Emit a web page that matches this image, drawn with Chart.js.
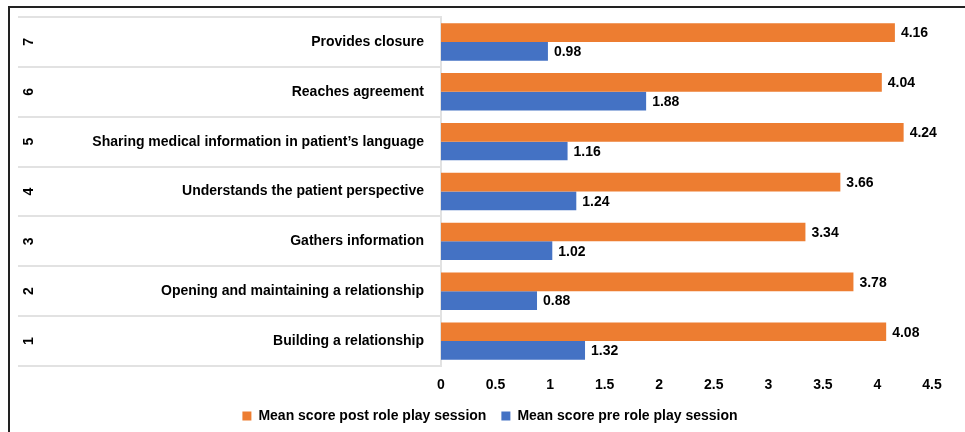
<!DOCTYPE html>
<html>
<head>
<meta charset="utf-8">
<script src="https://cdn.jsdelivr.net/npm/chart.js@4.4.0/dist/chart.umd.min.js"></script>
<style>
  body { margin: 0; background: #fff; }
  #frame { position: absolute; left: 8px; top: 6px; width: 957px; height: 426px;
           border-top: 2px solid #222; border-left: 2px solid #222; box-sizing: border-box; }
  #wrap { position: absolute; left: 0; top: 0; width: 965px; height: 432px; }
</style>
</head>
<body>
<div id="frame"></div>
<div id="wrap"><canvas id="myChart" width="965" height="432"></canvas></div>
<script>
// top to bottom, as in the figure
const categories = [
    'Provides closure',
    'Reaches agreement',
    'Sharing medical information in patient\u2019s language',
    'Understands the patient perspective',
    'Gathers information',
    'Opening and maintaining a relationship',
    'Building a relationship'
];
const itemNumbers = ['7', '6', '5', '4', '3', '2', '1'];
const postScores = [4.16, 4.04, 4.24, 3.66, 3.34, 3.78, 4.08];
const preScores = [0.98, 1.88, 1.16, 1.24, 1.02, 0.88, 1.32];

const font = { family: 'Liberation Sans, Arial, sans-serif', size: 14, weight: 'bold' };
const lineColor = '#e2e2e2';

const valueLabels = {
    id: 'valueLabels',
    afterDatasetsDraw(chart) {
        const ctx = chart.ctx;
        ctx.save();
        ctx.font = 'bold 14px Liberation Sans, Arial, sans-serif';
        ctx.fillStyle = '#000';
        ctx.textBaseline = 'middle';
        ctx.textAlign = 'left';
        chart.data.datasets.forEach((ds, i) => {
            chart.getDatasetMeta(i).data.forEach((bar, j) => {
                ctx.fillText(ds.data[j].toFixed(2), bar.x + 6, bar.y + 1);
            });
        });
        ctx.restore();
    }
};

const ctx = document.getElementById('myChart');
const chart = new Chart(ctx, {
    type: 'bar',
    data: {
        labels: categories,
        datasets: [{
            label: 'Mean score post role play session',
            data: postScores,
            backgroundColor: '#ED7D31',
            categoryPercentage: 0.75,
            barPercentage: 1
        }, {
            label: 'Mean score pre role play session',
            data: preScores,
            backgroundColor: '#4472C4',
            categoryPercentage: 0.75,
            barPercentage: 1
        }]
    },
    options: {
        indexAxis: 'y',
        responsive: false,
        animation: false,
        layout: { padding: { left: 48, top: 17, right: 33, bottom: -1 } },
        scales: {
            x: {
                min: 0,
                max: 4.5,
                ticks: { stepSize: 0.5, color: '#000', font: font, padding: 11,
                         callback: (v) => String(v) },
                grid: { display: false, drawTicks: false },
                border: { display: false },
                afterFit(scale) { scale.height = 28; }
            },
            y: {
                weight: 0,
                offset: true,
                grid: { offset: true, drawOnChartArea: false, color: lineColor, lineWidth: 2, tickLength: 423 },
                border: { display: true, color: lineColor, width: 2 },
                ticks: { color: '#000', font: font, padding: -406 },
                afterFit(scale) { scale.width = 392; }
            },
            y2: {
                type: 'category',
                labels: itemNumbers,
                position: 'left',
                weight: 1,
                offset: true,
                grid: { display: false, drawTicks: false },
                border: { display: false },
                ticks: { color: '#000', font: font, mirror: true, minRotation: 90, maxRotation: 90,
                         crossAlign: 'center', padding: -24 },
                afterFit(scale) { scale.width = 1; }
            }
        },
        plugins: {
            legend: {
                position: 'bottom',
                labels: { boxWidth: 9, boxHeight: 9, color: '#000', font: font, padding: 15 }
            },
            tooltip: { enabled: false }
        }
    },
    plugins: [valueLabels]
});
</script>
</body>
</html>
